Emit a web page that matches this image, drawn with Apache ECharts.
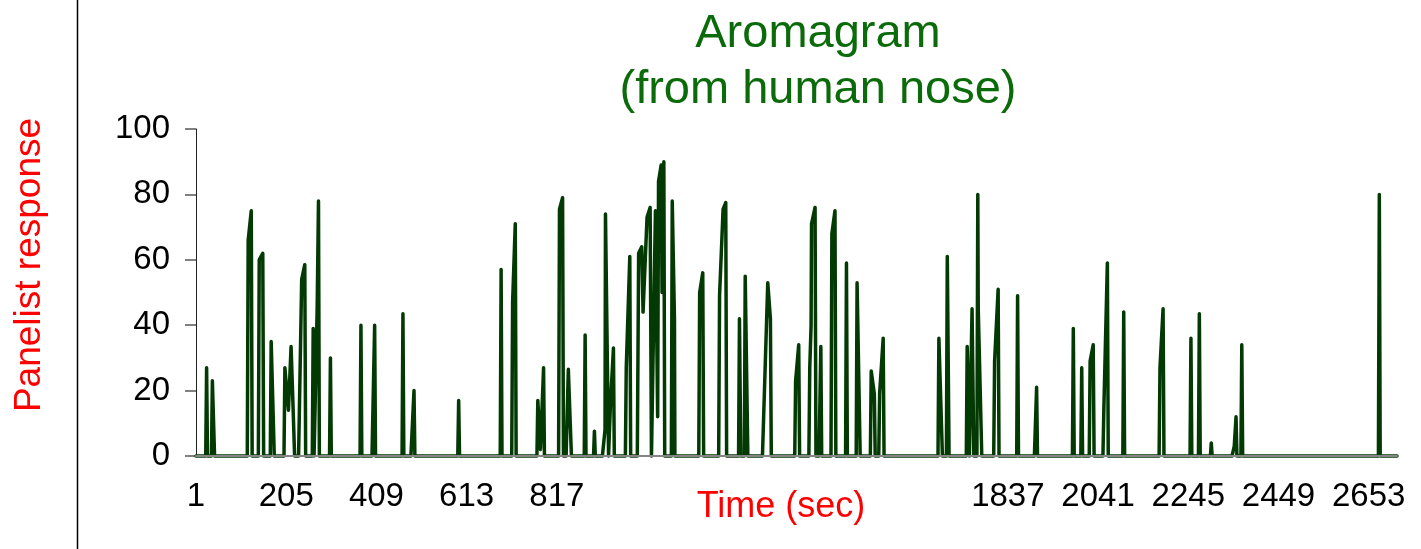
<!DOCTYPE html>
<html>
<head>
<meta charset="utf-8">
<script src="https://cdn.jsdelivr.net/npm/echarts@6/dist/echarts.min.js"></script>
<style>
html,body{margin:0;padding:0;background:#ffffff;}
#chart{width:1421px;height:549px;}
</style>
</head>
<body>
<div id="chart"></div>
<script>
// Time (sec) of each vertex of the aromagram trace
const timeSec = [
  1,
  23,25,27,
  36,38,43,
  117,119,126,128,
  142,144,152,154,
  169,171,178,
  200,202,210,216,220,222,224,
  233,240,247,249,
  264,266,268,275,278,280,
  303,305,307,
  372,374,376,
  399,405,407,
  467,469,471,
  487,494,496,
  593,595,597,
  689,691,693,
  715,717,723,725,
  772,774,780,787,789,
  821,823,830,832,
  838,843,850,
  879,881,883,
  900,902,904,
  920,926,927,934,938,945,947,
  972,974,982,984,
  999,1002,1009,1012,1021,1028,1031,1035,1040,1045,1047,1053,1055,1059,1061,
  1076,1078,1083,1084,
  1138,1140,1147,1149,
  1183,1185,1193,1199,1201,
  1228,1230,1233,
  1241,1243,1249,
  1282,1294,1300,1302,
  1355,1357,1364,1366,
  1387,1389,1392,1393,1401,1403,
  1410,1414,1416,
  1437,1439,1446,1448,
  1470,1472,1474,
  1494,1496,1503,
  1526,1528,1535,1537,1545,1547,1555,1557,
  1679,1681,1689,
  1698,1700,1704,
  1743,1745,1750,1756,1760,1767,1769,1770,1778,
  1805,1807,1815,1817,
  1857,1859,1861,
  1897,1902,1904,
  1983,1985,1987,
  2002,2004,2006,
  2021,2023,2030,2032,
  2052,2054,2062,2064,
  2097,2099,2101,
  2179,2181,2188,2190,
  2249,2251,2253,
  2268,2270,2272,
  2295,2297,2299,
  2344,2349,2353,2355,
  2364,2366,2368,
  2675,2677,2679,
  2717
];
// Panelist response at each vertex
const response = [
  0,
  0,27,0,
  0,23,0,
  0,66,75,0,
  0,60,62,0,
  0,35,0,
  0,27,14,33.5,17,17,0,
  0,54,58.5,0,
  0,39,0,45,78,0,
  0,30,0,
  0,40,0,
  0,40,0,
  0,43.5,0,
  0,20,0,
  0,17,0,
  0,57,0,
  0,47,71,0,
  0,17,2,27,0,
  0,75.5,79,0,
  0,26.5,0,
  0,37,0,
  0,7.6,0,
  0,8,74,0,15,33,0,
  0,27,61,0,
  0,62,64,44,73,76,0,0,75,12,84,89,50,90,0,
  0,78,42,0,
  0,50,56,0,
  0,49,75.5,77.5,0,
  0,42,0,
  0,55,0,
  0,53,42,0,
  0,23,34,0,
  0,27,40,71,76,0,
  0,33.5,0,
  0,68,75,0,
  0,59,0,
  0,53,0,
  0,26,19,0,0,19,36,0,
  0,36,0,
  0,61,0,
  0,33.5,0,45,0,0,80,45,0,
  0,29,51,0,
  0,49,0,
  0,21,0,
  0,39,0,
  0,27,0,
  0,29,34,0,
  0,14,59,0,
  0,44,0,
  0,27,45,0,
  0,36,0,
  0,43.5,0,
  0,4,0,
  0,3,12,0,
  0,34,0,
  0,80,0,
  0
];
const xTickLabels = [1, 205, 409, 613, 817, 1837, 2041, 2245, 2449, 2653];
const titleText = 'Aromagram\n(from human nose)';
const xTitle = 'Time (sec)';
const yTitle = 'Panelist response';

const seriesData = timeSec.map((t, i) => [t, response[i]]);

const chart = echarts.init(document.getElementById('chart'), null, {renderer: 'canvas'});
const FONT = '"Liberation Sans", Arial, sans-serif';
chart.setOption({
  animation: false,
  backgroundColor: '#ffffff',
  title: {
    text: titleText,
    left: 818,
    top: 6,
    padding: 0,
    textAlign: 'center',
    textStyle: {
      color: '#0b6b0b',
      fontFamily: FONT,
      fontSize: 47,
      fontWeight: 'normal',
      lineHeight: 56
    }
  },
  grid: {left: 196, right: 24, top: 129, bottom: 93, containLabel: false},
  xAxis: {
    type: 'value',
    min: 1,
    max: 2717,
    z: 5,
    axisLine: {show: true, lineStyle: {color: '#858585', width: 2}},
    axisTick: {show: false},
    splitLine: {show: false},
    axisLabel: {
      customValues: xTickLabels,
      formatter: (v) => String(v),
      margin: 24,
      color: '#000000',
      fontFamily: FONT,
      fontSize: 33
    }
  },
  yAxis: {
    type: 'value',
    min: 0,
    max: 100,
    interval: 20,
    axisLine: {show: true, lineStyle: {color: '#222222', width: 1}},
    axisTick: {show: true, inside: false, length: 11, lineStyle: {color: '#808080', width: 2}},
    splitLine: {show: false},
    axisLabel: {
      margin: 26,
      color: '#000000',
      fontFamily: FONT,
      fontSize: 33
    }
  },
  graphic: [
    {
      type: 'line',
      shape: {x1: 77.5, y1: 0, x2: 77.5, y2: 549},
      style: {stroke: '#000000', lineWidth: 1.5}
    },
    {
      type: 'text',
      x: 30,
      y: 265,
      rotation: Math.PI / 2,
      style: {
        text: yTitle,
        fill: '#ff0000',
        font: '37px "Liberation Sans", Arial, sans-serif',
        textAlign: 'center',
        textVerticalAlign: 'middle'
      }
    },
    {
      type: 'text',
      x: 781,
      y: 507,
      style: {
        text: xTitle,
        fill: '#ff0000',
        font: '36px "Liberation Sans", Arial, sans-serif',
        textAlign: 'center',
        textVerticalAlign: 'middle'
      }
    }
  ],
  series: [{
    type: 'line',
    data: seriesData,
    showSymbol: false,
    symbol: 'none',
    clip: false,
    lineStyle: {color: '#033a03', width: 3.5, join: 'round', cap: 'round'}
  }]
});
</script>
</body>
</html>
